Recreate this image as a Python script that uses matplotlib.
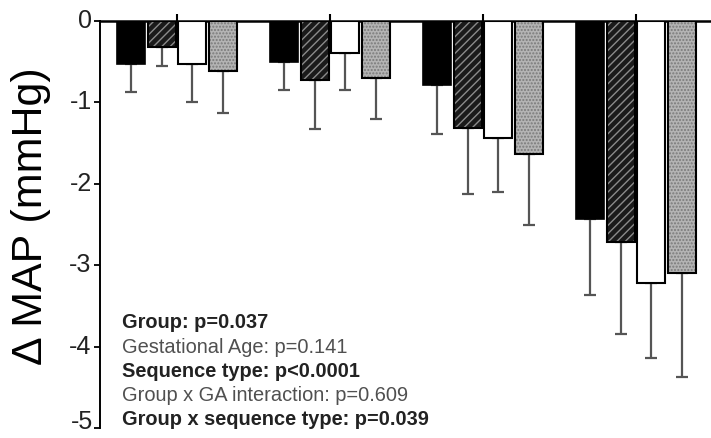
import numpy as np
import matplotlib.pyplot as plt

plt.rcParams['font.family'] = ['Liberation Sans', 'DejaVu Sans']

# group means (change in MAP, mmHg) for the four bar types in each group
groups = ['1', '2', '3', '4']
black_mean = [-0.53, -0.50, -0.79, -2.43]
hatch_mean = [-0.32, -0.73, -1.31, -2.72]
white_mean = [-0.53, -0.39, -1.44, -3.22]
gray_mean = [-0.62, -0.70, -1.64, -3.10]

# error bars (downward only)
black_err = [0.34, 0.35, 0.60, 0.94]
hatch_err = [0.23, 0.60, 0.81, 1.13]
white_err = [0.46, 0.46, 0.66, 0.92]
gray_err = [0.51, 0.51, 0.86, 1.27]

yticks = [0, -1, -2, -3, -4, -5]
ytick_labels = ['0', '-1', '-2', '-3', '-4', '-5']

stats_lines = [
    ('Group: p=0.037', True),
    ('Gestational Age: p=0.141', False),
    ('Sequence type: p<0.0001', True),
    ('Group x GA interaction: p=0.609', False),
    ('Group x sequence type: p=0.039', True),
]

fig = plt.figure(figsize=(7.11, 4.38), dpi=100)
ax = fig.add_axes([100 / 711, 10 / 438, 611 / 711, 407 / 438])

x = np.arange(len(groups))
w = 0.185
offsets = [-0.3, -0.1, 0.1, 0.3]

# black bars
ax.bar(x + offsets[0], black_mean, w, color='black', edgecolor='black', lw=1.2, zorder=3)

# hatched bars: dark fill with lighter diagonal stripes, then black outline
ax.bar(x + offsets[1], hatch_mean, w, color='#1a1a1a', edgecolor='#8a8a8a', hatch='////', lw=0, zorder=3)
ax.bar(x + offsets[1], hatch_mean, w, fill=False, edgecolor='black', lw=1.5, zorder=4)

# white bars
ax.bar(x + offsets[2], white_mean, w, color='white', edgecolor='black', lw=1.5, zorder=3)

# gray stippled bars
ax.bar(x + offsets[3], gray_mean, w, color='#b4b4b4', edgecolor='#7a7a7a', hatch='.....', lw=0, zorder=3)
ax.bar(x + offsets[3], gray_mean, w, fill=False, edgecolor='black', lw=1.5, zorder=4)

for off, m, e in [(offsets[0], black_mean, black_err), (offsets[1], hatch_mean, hatch_err),
                  (offsets[2], white_mean, white_err), (offsets[3], gray_mean, gray_err)]:
    ax.errorbar(x + off, m, yerr=[e, np.zeros(len(e))], fmt='none', ecolor='#555555',
                elinewidth=1.6, capsize=4.5, capthick=1.6, zorder=2)

ax.set_ylim(-5, 0)
ax.set_xlim(-0.503, 3.49)
ax.set_yticks(yticks)
# bottom label is placed by hand below so it isn't clipped by the figure edge
ax.set_yticklabels(ytick_labels[:-1] + [''], fontsize=18, color='#222222')
for lab in ax.get_yticklabels():
    lab.set_va('center')
ax.annotate(ytick_labels[-1], xy=(0, yticks[-1]), xycoords=('axes fraction', 'data'),
            xytext=(-5, 4), textcoords='offset points', ha='right', va='center',
            fontsize=18, color='#222222', annotation_clip=False)

ax.xaxis.tick_top()
ax.set_xticks(x)
ax.set_xticklabels([])
ax.tick_params(axis='x', direction='out', length=5, width=1.5)
ax.tick_params(axis='y', direction='out', length=4, width=1.3, pad=2)

ax.spines['bottom'].set_visible(False)
ax.spines['right'].set_visible(False)
ax.spines['top'].set_linewidth(1.8)
ax.spines['left'].set_linewidth(1.4)

ax.set_ylabel('\u0394 MAP (mmHg)', fontsize=31, labelpad=6)
ax.yaxis.set_label_coords(-0.08, 0.52)

y0 = -3.71
for i, (txt, bold) in enumerate(stats_lines):
    ax.text(-0.36, y0 - i * 0.295, txt, fontsize=14.4,
            fontweight='bold' if bold else 'normal',
            color='#222222' if bold else '#505050', va='center', ha='left', zorder=5)

fig.savefig('out.png', dpi=100)
